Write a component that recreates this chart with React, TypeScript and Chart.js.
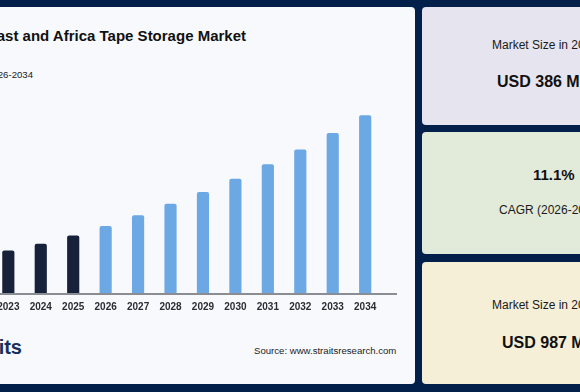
import React, { useEffect, useRef } from "react";
import { Chart, registerables } from "chart.js";

Chart.register(...registerables);

const years = ["2023", "2024", "2025", "2026", "2027", "2028", "2029", "2030", "2031", "2032", "2033", "2034"];
const marketValues = [311, 344, 386, 433, 487, 544, 603, 670, 742, 816, 898, 987];
const historicYears = ["2023", "2024", "2025"];

const FONT = "'Liberation Sans', Arial, Helvetica, sans-serif";

function BarChart() {
  const ref = useRef<HTMLCanvasElement>(null);
  useEffect(() => {
    if (!ref.current) return;
    const baseline = {
      id: "baseline",
      afterDatasetsDraw(chart: any) {
        const { ctx, chartArea } = chart;
        ctx.save();
        ctx.strokeStyle = "#8a8d93";
        ctx.lineWidth = 2;
        ctx.beginPath();
        ctx.moveTo(0, chartArea.bottom + 1);
        ctx.lineTo(chartArea.right + 15.6, chartArea.bottom + 1);
        ctx.stroke();
        ctx.restore();
      },
    };
    const chart = new Chart(ref.current, {
      type: "bar",
      data: {
        labels: years,
        datasets: [
          {
            data: marketValues,
            backgroundColor: years.map((y) => (historicYears.includes(y) ? "#17213a" : "#6ca8e3")),
            barThickness: 11.5,
            borderRadius: { topLeft: 2, topRight: 2, bottomLeft: 0, bottomRight: 0 },
            borderSkipped: "bottom",
          },
        ],
      },
      options: {
        animation: false,
        responsive: false,
        maintainAspectRatio: false,
        layout: { padding: { left: 12.1, right: 18.6, top: 9, bottom: 0 } },
        plugins: { legend: { display: false }, tooltip: { enabled: false } },
        scales: {
          x: {
            grid: { display: false, drawTicks: false },
            border: { display: false },
            ticks: {
              color: "#2a2d33",
              font: { family: FONT, size: 10, weight: "bold" },
              padding: 8,
              maxRotation: 0,
            },
          },
          y: { display: false, min: 100, max: 1040 },
        },
      },
      plugins: [baseline],
    });
    return () => chart.destroy();
  }, []);
  return (
    <canvas
      ref={ref}
      width={420}
      height={225}
      style={{ position: "absolute", left: -20, top: 96, width: 420, height: 225 }}
    />
  );
}

function Txt(props: { x?: number; right?: number; cy: number; size: number; bold?: boolean; color?: string; children: React.ReactNode }) {
  const { x, right, cy, size, bold, color, children } = props;
  const style: React.CSSProperties = {
    position: "absolute",
    top: cy - 0.49 * size,
    fontSize: size,
    lineHeight: `${size}px`,
    fontWeight: bold ? 700 : 400,
    color: color || "#111",
    whiteSpace: "nowrap",
    fontFamily: FONT,
  };
  if (x !== undefined) style.left = x;
  if (right !== undefined) style.right = 580 - right;
  return <div style={style}>{children}</div>;
}

export default function App() {
  return (
    <div
      style={{
        position: "fixed",
        left: 0,
        top: 0,
        width: 580,
        height: 392,
        overflow: "hidden",
        background: "#03204a",
        fontFamily: FONT,
      }}
    >
      <div style={{ position: "absolute", left: -60, top: 7, width: 475, height: 377, background: "#f7f9fd", borderRadius: 4 }} />
      <div style={{ position: "absolute", left: 422, top: 7, width: 260, height: 118, background: "#e6e4ee", borderRadius: 4 }} />
      <div style={{ position: "absolute", left: 422, top: 132, width: 260, height: 122, background: "#e2ead9", borderRadius: 4 }} />
      <div style={{ position: "absolute", left: 422, top: 262, width: 260, height: 122, background: "#f5efd8", borderRadius: 4 }} />

      <Txt right={246} cy={35.5} size={15} bold>Middle East and Africa Tape Storage Market</Txt>
      <Txt right={33} cy={75} size={9.6} color="#222">Market Size Forecast, 2026-2034</Txt>

      <BarChart />

      <Txt right={22} cy={347} size={20} bold color="#14305e">Straits</Txt>
      <Txt x={254} cy={351} size={9.6} color="#222">Source: www.straitsresearch.com</Txt>

      <Txt x={492} cy={45} size={12} color="#1a1a1a">Market Size in 2025</Txt>
      <Txt x={497} cy={81.7} size={16} bold>USD 386 Million</Txt>
      <Txt x={533} cy={174.2} size={15} bold>11.1%</Txt>
      <Txt x={499} cy={210} size={12} color="#1a1a1a">CAGR (2026-2034)</Txt>
      <Txt x={492} cy={304.7} size={12} color="#1a1a1a">Market Size in 2034</Txt>
      <Txt x={502} cy={342.5} size={16} bold>USD 987 Million</Txt>
    </div>
  );
}
